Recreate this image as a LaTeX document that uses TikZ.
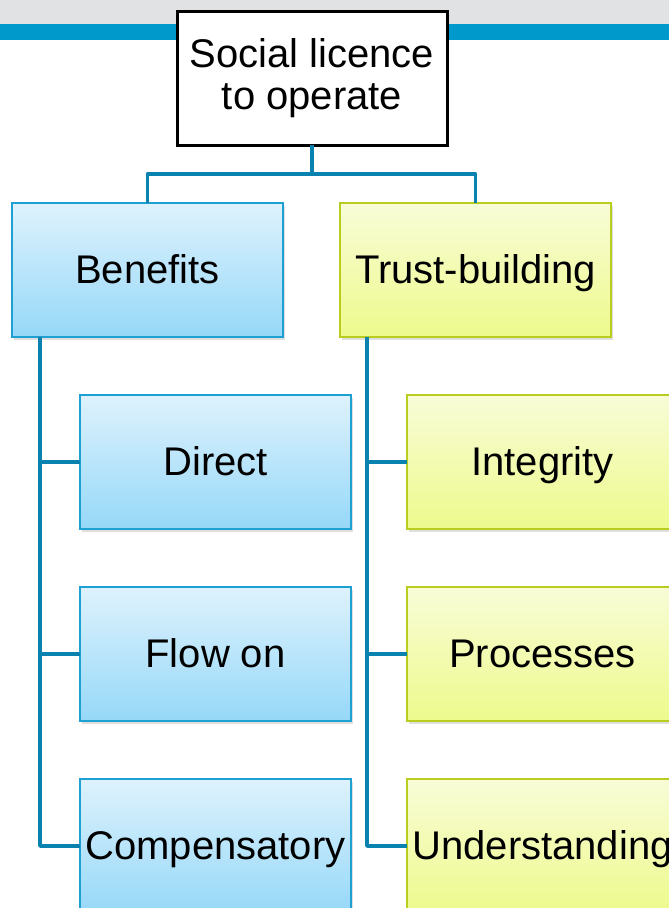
\documentclass[tikz,border=0pt]{standalone}
\usepackage{fontspec}
\setmainfont{Liberation Sans}
\usetikzlibrary{calc,positioning,shadows}

\definecolor{bandgrey}{RGB}{225,226,228}
\definecolor{bandblue}{RGB}{0,153,204}
\definecolor{linkblue}{RGB}{10,130,175}
\definecolor{benefittop}{RGB}{222,242,253}
\definecolor{benefitbot}{RGB}{150,216,248}
\definecolor{benefitrim}{RGB}{30,160,210}
\definecolor{trusttop}{RGB}{248,252,215}
\definecolor{trustbot}{RGB}{237,250,140}
\definecolor{trustrim}{RGB}{185,205,30}

\begin{document}
\begin{tikzpicture}[
        x=1pt, y=-1pt, % pixel grid, y going down
        every node/.style={font=\fontsize{40}{42}\selectfont, align=center, inner sep=0pt, outer sep=0pt},
        box/.style={rectangle, minimum width=271pt, minimum height=134pt,
            text height=31pt, text depth=4pt,
            drop shadow={opacity=0.25, shadow xshift=2pt, shadow yshift=-3pt}},
        rootbox/.style={rectangle, draw=black, line width=3pt, fill=white,
            minimum width=270pt, minimum height=134pt},
        benefitbox/.style={box, draw=benefitrim, line width=1.2pt,
            top color=benefittop, bottom color=benefitbot},
        trustbox/.style={box, draw=trustrim, line width=1.2pt,
            top color=trusttop, bottom color=trustbot},
        link/.style={draw=linkblue, line width=3.5pt, line join=round}
    ]
    \useasboundingbox (0,0) rectangle (669,908);
    \clip (0,0) rectangle (669,908);

    % header bands
    \fill[bandgrey] (0,0) rectangle (669,24);
    \fill[bandblue] (0,24) rectangle (669,40);

    \node[rootbox] (root) at (312,78) {Social licence\\to operate};

    \node[benefitbox] (benefits) at (147.5,270) {Benefits};
    \node[trustbox, right=57pt of benefits] (trust) {Trust-building};

    % benefit branch
    \node[benefitbox, below right=58pt and 68pt of benefits.south west] (direct) {Direct};
    \node[benefitbox, below=58pt of direct] (flowon) {Flow on};
    \node[benefitbox, below=58pt of flowon] (compens) {Compensatory};

    % trust branch
    \node[trustbox, right=56pt of direct] (integrity) {Integrity};
    \node[trustbox, right=56pt of flowon] (processes) {Processes};
    \node[trustbox, right=56pt of compens] (understand) {Understanding};

    % connectors
    \coordinate (split) at ($(root.south)+(0,29)$);
    \draw[link] (root) -- (split) -| (benefits.north);
    \draw[link] (split) -| (trust.north);

    \coordinate (bspine) at ($(benefits.south west)+(28,0)$);
    \draw[link] (bspine) |- (compens.west);
    \draw[link] (bspine) |- (direct.west);
    \draw[link] (bspine) |- (flowon.west);

    \coordinate (tspine) at ($(trust.south west)+(27,0)$);
    \draw[link] (tspine) |- (understand.west);
    \draw[link] (tspine) |- (integrity.west);
    \draw[link] (tspine) |- (processes.west);
\end{tikzpicture}
\end{document}
